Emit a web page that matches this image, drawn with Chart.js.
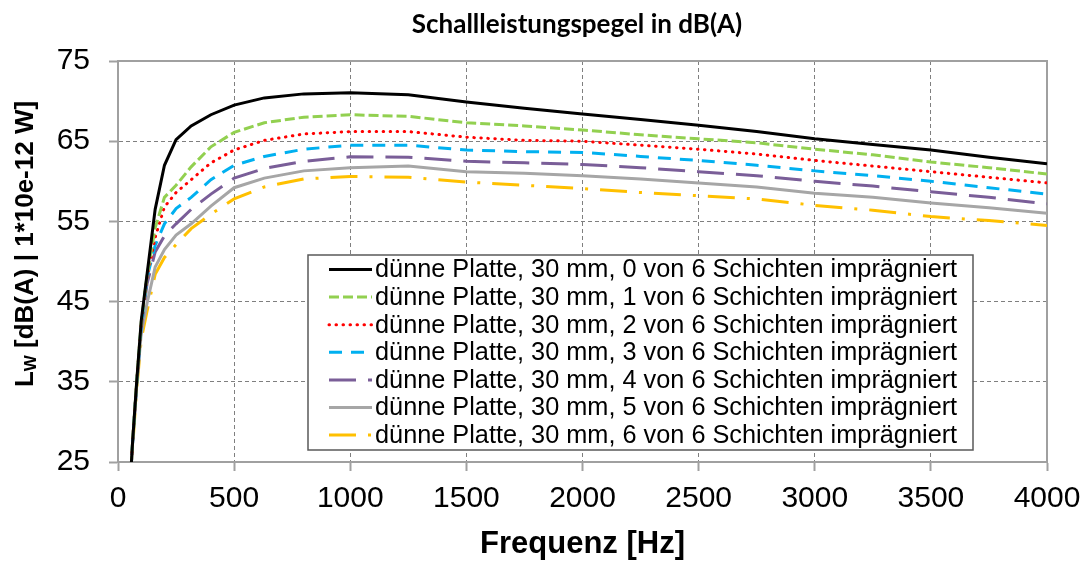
<!DOCTYPE html>
<html>
<head>
<meta charset="utf-8">
<script src="https://cdn.jsdelivr.net/npm/chart.js@4.4.1/dist/chart.umd.min.js"></script>
<style>
  html, body { margin: 0; padding: 0; background: #ffffff; }
  #wrap { width: 1088px; height: 563px; }
</style>
</head>
<body>
<div id="wrap"><canvas id="c" width="1088" height="563"></canvas></div>
<script>
// Frequency points [Hz]
const frequencies = [50, 63, 80, 100, 125, 160, 200, 250, 315, 400, 500, 630, 800, 1000,
  1250, 1500, 1750, 2000, 2250, 2500, 2750, 3000, 3250, 3500, 3750, 4000];

// Sound power level L_W [dB(A)] per number of impregnated layers
const layers0of6 = [21.0, 27.6, 34.8, 42.6, 48.4, 56.5, 62.0, 65.2, 66.9, 68.3, 69.5, 70.4, 70.9, 71.05,
  70.8, 69.9, 69.1, 68.4, 67.7, 67.0, 66.2, 65.3, 64.6, 63.9, 63.0, 62.2];
const layers1of6 = [21.0, 27.6, 34.8, 42.4, 48.2, 54.2, 58.0, 59.5, 61.8, 64.3, 66.1, 67.3, 68.0, 68.3,
  68.1, 67.3, 66.9, 66.4, 65.8, 65.3, 64.8, 64.0, 63.3, 62.4, 61.7, 60.9];
const layers2of6 = [21.0, 27.6, 34.8, 42.3, 48.0, 53.0, 56.8, 58.6, 60.2, 62.3, 63.9, 65.1, 65.9, 66.2,
  66.2, 65.5, 65.1, 65.0, 64.5, 64.0, 63.4, 62.6, 61.9, 61.2, 60.5, 59.8];
const layers3of6 = [21.0, 27.5, 34.6, 42.0, 48.0, 52.0, 54.7, 56.6, 58.0, 60.2, 62.0, 63.1, 64.0, 64.5,
  64.5, 63.9, 63.7, 63.6, 63.1, 62.6, 62.0, 61.3, 60.7, 60.0, 59.2, 58.4];
const layers4of6 = [21.0, 27.5, 34.5, 41.7, 47.2, 51.2, 53.2, 54.7, 56.5, 58.4, 60.4, 61.6, 62.5, 63.05,
  63.0, 62.5, 62.3, 62.1, 61.7, 61.2, 60.7, 60.0, 59.4, 58.7, 58.0, 57.2];
const layers5of6 = [21.0, 27.4, 34.3, 41.0, 44.8, 49.3, 51.5, 53.3, 54.7, 56.9, 59.2, 60.4, 61.3, 61.7,
  61.9, 61.2, 61.0, 60.7, 60.3, 59.8, 59.3, 58.5, 58.0, 57.3, 56.7, 56.0];
const layers6of6 = [21.0, 26.8, 33.9, 40.3, 43.8, 48.4, 50.5, 52.1, 54.1, 55.9, 57.8, 59.3, 60.3, 60.6,
  60.5, 59.9, 59.5, 59.1, 58.6, 58.2, 57.8, 57.0, 56.4, 55.6, 55.1, 54.5];

const seriesLabels = [
  'dünne Platte, 30 mm, 0 von 6 Schichten imprägniert',
  'dünne Platte, 30 mm, 1 von 6 Schichten imprägniert',
  'dünne Platte, 30 mm, 2 von 6 Schichten imprägniert',
  'dünne Platte, 30 mm, 3 von 6 Schichten imprägniert',
  'dünne Platte, 30 mm, 4 von 6 Schichten imprägniert',
  'dünne Platte, 30 mm, 5 von 6 Schichten imprägniert',
  'dünne Platte, 30 mm, 6 von 6 Schichten imprägniert'
];
const seriesValues = [layers0of6, layers1of6, layers2of6, layers3of6, layers4of6, layers5of6, layers6of6];

const chartTitle = 'Schallleistungspegel in dB(A)';
const xAxisTitle = 'Frequenz [Hz]';
const yAxisSymbol = 'L';
const yAxisSubscript = 'W';
const yAxisUnit = ' [dB(A) | 1*10e-12 W]';
const xRange = { min: 0, max: 4000, step: 500 };
const yRange = { min: 25, max: 75, step: 10 };

// Line styles: solid, dash, dot, dash, long dash, solid, long dash-dot
const styles = [
  { color: '#000000', dash: [], cap: 'butt' },
  { color: '#92D050', dash: [10, 4], cap: 'butt' },
  { color: '#FF0000', dash: [0.5, 6.5], cap: 'round' },
  { color: '#00B0F0', dash: [13, 9], cap: 'butt' },
  { color: '#7A5E98', dash: [27, 12], cap: 'butt' },
  { color: '#A6A6A6', dash: [], cap: 'butt' },
  { color: '#FFC000', dash: [27, 12, 3, 12], cap: 'butt' }
];

const datasets = seriesValues.map((vals, i) => ({
  label: seriesLabels[i],
  data: frequencies.map((f, j) => ({ x: f, y: vals[j] })),
  borderColor: styles[i].color,
  backgroundColor: styles[i].color,
  borderWidth: 3,
  borderDash: styles[i].dash,
  borderCapStyle: styles[i].cap,
  pointRadius: 0,
  tension: 0,
  fill: false
}));

const AXIS_GRAY = '#A0A0A0';
const GRID_GRAY = '#7F7F7F';
const SANS = '"Liberation Sans", Arial, sans-serif';

// Frame, title, rotated y-axis title with subscript and the boxed legend
const decorations = {
  id: 'decorations',
  beforeDatasetsDraw(chart) {
    const { ctx, chartArea: a } = chart;
    ctx.save();
    ctx.strokeStyle = AXIS_GRAY;
    ctx.lineWidth = 2;
    ctx.beginPath();
    ctx.moveTo(a.left, a.top);
    ctx.lineTo(a.right, a.top);
    ctx.lineTo(a.right, a.bottom);
    ctx.stroke();
    ctx.restore();
  },
  afterDraw(chart) {
    const { ctx } = chart;
    ctx.save();
    // chart title
    ctx.fillStyle = '#000';
    ctx.font = 'bold 26px Lato, "Open Sans", sans-serif';
    ctx.textAlign = 'center';
    ctx.textBaseline = 'middle';
    ctx.fillText(chartTitle, 577, 25);

    // y axis title, rotated
    ctx.save();
    ctx.translate(26, 244);
    ctx.rotate(-Math.PI / 2);
    const mainFont = 'bold 26px ' + SANS;
    const subFont = 'bold 17px ' + SANS;
    ctx.font = mainFont;
    const wL = ctx.measureText(yAxisSymbol).width;
    const wU = ctx.measureText(yAxisUnit).width;
    ctx.font = subFont;
    const wS = ctx.measureText(yAxisSubscript).width;
    let x = -(wL + wS + wU) / 2;
    ctx.textAlign = 'left';
    ctx.textBaseline = 'middle';
    ctx.font = mainFont;
    ctx.fillText(yAxisSymbol, x, 0);
    x += wL;
    ctx.font = subFont;
    ctx.fillText(yAxisSubscript, x, 5);
    x += wS;
    ctx.font = mainFont;
    ctx.fillText(yAxisUnit, x, 0);
    ctx.restore();

    // legend box
    const box = { left: 308, top: 255, right: 973, bottom: 450 };
    ctx.fillStyle = '#ffffff';
    ctx.fillRect(box.left, box.top, box.right - box.left, box.bottom - box.top);
    ctx.strokeStyle = '#595959';
    ctx.lineWidth = 1.5;
    ctx.strokeRect(box.left, box.top, box.right - box.left, box.bottom - box.top);
    ctx.font = '25.3px ' + SANS;
    ctx.textAlign = 'left';
    ctx.textBaseline = 'middle';
    chart.data.datasets.forEach((ds, i) => {
      const y = 269.5 + i * 27.6;
      ctx.save();
      ctx.strokeStyle = ds.borderColor;
      ctx.lineWidth = ds.borderWidth;
      ctx.setLineDash(ds.borderDash);
      ctx.lineCap = ds.borderCapStyle;
      ctx.beginPath();
      ctx.moveTo(329, y);
      ctx.lineTo(372, y);
      ctx.stroke();
      ctx.restore();
      ctx.fillStyle = '#000';
      ctx.fillText(ds.label, 375, y + 1);
    });
    ctx.restore();
  }
};

new Chart(document.getElementById('c'), {
  type: 'line',
  data: { datasets },
  options: {
    responsive: false,
    animation: false,
    events: [],
    layout: { padding: { top: 61, right: 41, left: 0, bottom: 0 } },
    plugins: { legend: { display: false }, title: { display: false }, tooltip: { enabled: false } },
    scales: {
      x: {
        type: 'linear',
        min: xRange.min, max: xRange.max,
        afterFit: s => { s.height = 101; s.paddingRight = 0; s.paddingLeft = 0; },
        ticks: {
          stepSize: xRange.step,
          color: '#000',
          padding: 10,
          maxRotation: 0,
          callback: v => String(v),
          font: { family: SANS, size: 30 }
        },
        grid: { color: GRID_GRAY, lineWidth: 1, tickColor: AXIS_GRAY, tickWidth: 2, tickLength: 9 },
        border: { color: AXIS_GRAY, width: 2, dash: [4, 3] },
        title: {
          display: true, text: xAxisTitle, color: '#000',
          padding: { top: 0, bottom: 0 },
          font: { family: SANS, size: 31, weight: 'bold' }
        }
      },
      y: {
        type: 'linear',
        min: yRange.min, max: yRange.max,
        afterFit: s => { s.width = 118; },
        ticks: {
          stepSize: yRange.step,
          color: '#000',
          padding: 19,
          callback: v => String(v),
          font: { family: SANS, size: 30 }
        },
        grid: { color: GRID_GRAY, lineWidth: 1, tickColor: AXIS_GRAY, tickWidth: 2, tickLength: 9 },
        border: { color: AXIS_GRAY, width: 2, dash: [4, 3] }
      }
    }
  },
  plugins: [decorations]
});
</script>
</body>
</html>
